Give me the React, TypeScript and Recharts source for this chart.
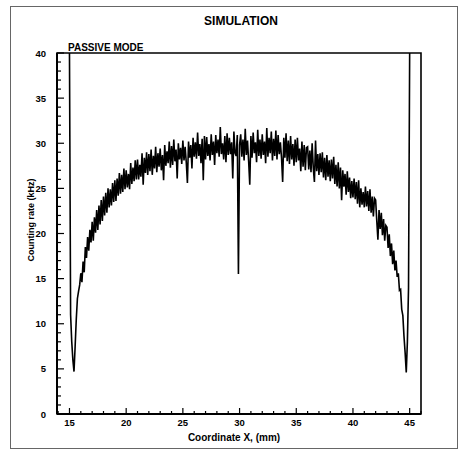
import React from 'react';
import { LineChart, Line, XAxis, YAxis, ReferenceArea } from 'recharts';

// samples start at 15.0 mm, one every 0.1 mm
const xStart = 15.0;
const xStep = 0.1;

const countingRate = [
  40, 11, 8, 6, 4.7, 7.5, 10.5, 12.8, 13.6, 14.3,
  15.6, 14.6, 16.9, 15.7, 18.5, 17.3, 19.6, 18.1, 20.4, 19.0,
  21.3, 19.2, 21.8, 20.1, 22.6, 20.4, 23.1, 21.0, 23.7, 21.4,
  24.1, 22.0, 24.5, 22.3, 25.0, 22.9, 24.9, 23.1, 25.6, 23.5,
  25.9, 23.6, 26.1, 24.2, 26.7, 24.4, 26.5, 24.6, 27.2, 24.9,
  27.0, 25.1, 26.6, 24.9, 27.8, 25.5, 27.3, 25.8, 28.1, 26.0,
  28.2, 26.0, 27.6, 26.3, 28.9, 25.4, 28.4, 26.7, 29.0, 26.5,
  28.8, 26.9, 29.3, 26.5, 28.6, 27.2, 29.6, 26.8, 28.9, 27.4,
  29.4, 27.0, 28.7, 25.9, 29.8, 27.5, 29.1, 27.8, 30.2, 27.3,
  29.7, 27.6, 30.4, 28.0, 29.3, 26.1, 30.0, 28.2, 29.5, 27.7,
  30.3, 28.1, 29.6, 27.9, 25.6, 30.2, 28.4, 29.8, 27.2, 30.6,
  28.5, 30.1, 28.3, 31.2, 28.6, 29.9, 27.8, 30.5, 25.9, 30.8,
  28.2, 30.7, 28.6, 29.9, 28.1, 31.0, 28.7, 30.2, 27.6, 30.9,
  28.9, 30.4, 28.5, 31.8, 28.8, 30.0, 28.2, 30.8, 27.9, 31.1,
  28.7, 30.6, 28.8, 30.1, 26.1, 31.3, 28.9, 28.6, 30.9, 15.5,
  29.8, 31.0, 28.5, 30.4, 28.1, 31.6, 28.7, 30.3, 28.0, 25.4,
  30.8, 28.4, 31.2, 28.9, 30.1, 27.9, 31.5, 28.6, 30.4, 28.3,
  31.0, 28.7, 30.2, 27.8, 31.7, 28.5, 30.6, 28.9, 31.3, 28.1,
  30.5, 28.6, 31.4, 28.2, 30.9, 28.8, 30.1, 28.4, 25.7, 30.6,
  28.4, 31.1, 28.0, 30.3, 27.7, 30.8, 28.2, 29.9, 27.5, 30.4,
  27.9, 30.6, 28.1, 29.4, 26.9, 30.2, 27.4, 29.8, 27.0, 29.5,
  29.6, 27.1, 29.2, 26.8, 30.0, 27.3, 25.7, 30.3, 26.9, 28.8,
  26.5, 28.9, 26.8, 29.0, 26.2, 28.4, 25.9, 28.7, 26.3, 28.1,
  25.8, 28.2, 26.1, 28.5, 25.5, 27.6, 25.2, 27.9, 25.0, 27.3,
  23.7, 27.0, 25.2, 26.6, 24.3, 26.9, 24.6, 26.2, 23.9, 25.8,
  24.0, 26.1, 23.8, 25.7, 23.3, 25.9, 22.9, 25.0, 23.2, 24.6,
  22.9, 25.2, 23.0, 24.7, 22.5, 24.9, 22.3, 24.1, 21.9, 23.9,
  23.7, 21.4, 19.3, 22.6, 20.5, 22.3, 19.8, 21.6, 19.2, 20.9,
  20.7, 18.4, 19.9, 17.5, 18.9, 16.6, 18.1, 15.9, 17.0, 15.2,
  15.6, 13.7, 13.8, 11.6, 10.9, 8.6, 6.8, 4.6, 8.0, 14.0,
  40,
];

const xTicks = [14, 15, 16, 17, 18, 19, 20, 21, 22, 23, 24, 25, 26, 27, 28, 29, 30,
  31, 32, 33, 34, 35, 36, 37, 38, 39, 40, 41, 42, 43, 44, 45, 46];
const yTicks = [0, 1, 2, 3, 4, 5, 6, 7, 8, 9, 10, 11, 12, 13, 14, 15, 16, 17, 18, 19, 20,
  21, 22, 23, 24, 25, 26, 27, 28, 29, 30, 31, 32, 33, 34, 35, 36, 37, 38, 39, 40];
const xMin = 13.9;
const xMax = 46;

const data = countingRate.map((v, i) => ({ x: +(xStart + i * xStep).toFixed(2), rate: v }));

const font = '"Liberation Sans", Arial, sans-serif';

const XTick = (props: any) => {
  const { x, y, payload } = props;
  const v = payload.value;
  const major = v % 5 === 0;
  return (
    <g>
      <line x1={x} x2={x} y1={y} y2={y - (major ? 6 : 3)} stroke="#000" strokeWidth={1.2} />
      {major && (
        <text x={x} y={y + 12} textAnchor="middle" fontSize={9.5} fontWeight="bold" fontFamily={font} fill="#000">
          {v}
        </text>
      )}
    </g>
  );
};

const YTick = (props: any) => {
  const { x, y, payload } = props;
  const v = payload.value;
  const major = v % 5 === 0;
  return (
    <g>
      <line x1={x} x2={x + (major ? 7 : 4)} y1={y} y2={y} stroke="#000" strokeWidth={1.2} />
      {major && (
        <text x={x - 11} y={y + 3.5} textAnchor="end" fontSize={9.5} fontWeight="bold" fontFamily={font} fill="#000">
          {v}
        </text>
      )}
    </g>
  );
};

export default function App() {
  return (
    <div style={{ position: 'absolute', left: 0, top: 0, width: 466, height: 461, background: '#fff', fontFamily: font }}>
      <div style={{ position: 'absolute', left: 10, top: 6, width: 446, height: 441, border: '1px solid #666' }} />
      <LineChart width={466} height={461} data={data} margin={{ top: 53, right: 45, bottom: 17, left: 17 }}>
        <XAxis
          dataKey="x"
          type="number"
          domain={[xMin, xMax]}
          allowDataOverflow
          ticks={xTicks}
          interval={0}
          tickSize={0}
          tickMargin={0}
          tick={<XTick />}
          tickLine={false}
          axisLine={{ stroke: '#000', strokeWidth: 2 }}
          height={30}
        />
        <YAxis
          type="number"
          domain={[0, 40]}
          allowDataOverflow
          ticks={yTicks}
          interval={0}
          tickSize={0}
          tickMargin={0}
          tick={<YTick />}
          tickLine={false}
          axisLine={{ stroke: '#000', strokeWidth: 2 }}
          width={40}
        />
        <ReferenceArea x1={xMin} x2={xMax} y1={0} y2={40} fill="none" stroke="#000" strokeWidth={1.6} />
        <Line
          type="linear"
          dataKey="rate"
          stroke="#000"
          strokeWidth={1.6}
          dot={false}
          isAnimationActive={false}
        />
      </LineChart>
      <div style={{ position: 'absolute', left: 166, top: 15, width: 150, textAlign: 'center', fontSize: 12, lineHeight: '12px', fontWeight: 'bold' }}>
        SIMULATION
      </div>
      <div style={{ position: 'absolute', left: 68, top: 43, fontSize: 10, lineHeight: '10px', fontWeight: 'bold' }}>
        PASSIVE MODE
      </div>
      <div style={{ position: 'absolute', left: -29, top: 214, width: 120, height: 12, textAlign: 'center', fontSize: 9, lineHeight: '12px', fontWeight: 'bold', transform: 'rotate(-90deg)' }}>
        Counting rate (kHz)
      </div>
      <div style={{ position: 'absolute', left: 159, top: 432, width: 150, textAlign: 'center', fontSize: 10, lineHeight: '12px', fontWeight: 'bold' }}>
        Coordinate X, (mm)
      </div>
    </div>
  );
}
